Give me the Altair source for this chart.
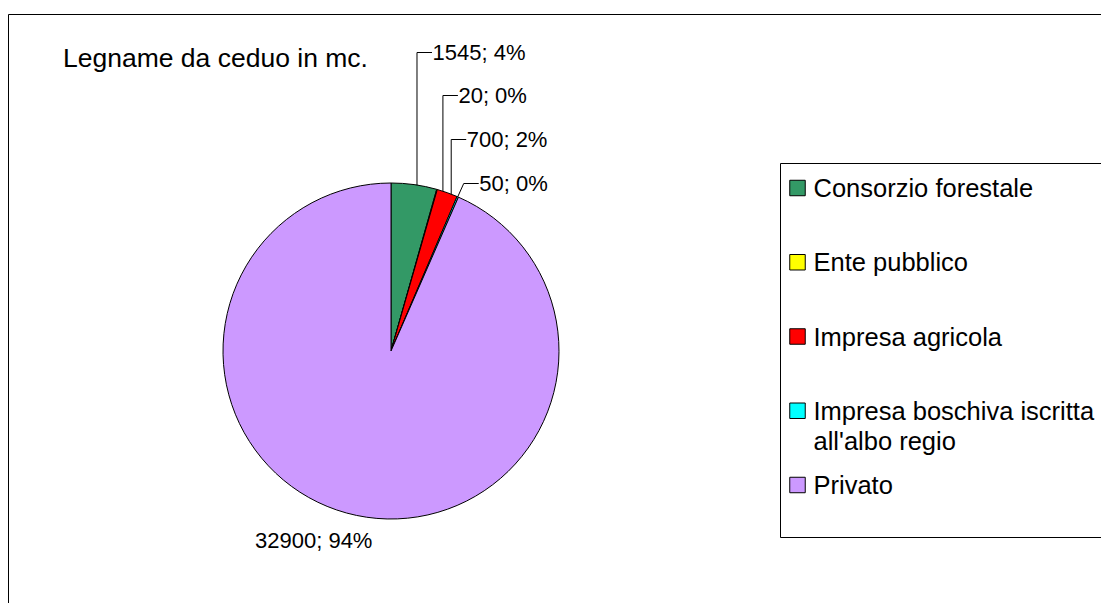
import math
import altair as alt
import pandas as pd

# ---------------- data ----------------
categories = ["Consorzio forestale", "Ente pubblico", "Impresa agricola",
              "Impresa boschiva iscritta all'albo regio", "Privato"]
legend_text = ["Consorzio forestale", "Ente pubblico", "Impresa agricola",
               "Impresa boschiva iscritta\nall'albo regio", "Privato"]
values = [1545, 20, 700, 50, 32900]
percent_shown = [4, 0, 2, 0, 94]
colors = ["#339966", "#FFFF00", "#FF0000", "#00FFFF", "#CC99FF"]
title_text = "Legname da ceduo in mc."

# ---------------- layout (pixels in view space) ----------------
W, H = 1093, 595
CX, CY, R = 383, 343, 168
FONT = "Liberation Sans, Arial, Helvetica, sans-serif"
leader_angle = [8.9, 18.0, 21.0, 23.4]      # degrees, clockwise from 12 o'clock
leader_dx = [0, 0, 0, 6]
label_y = [44.5, 87.5, 131.5, 175.5]
TAIL = 15
privato_xy = (247, 540)
legend_range = [180, 477]

df = pd.DataFrame({"category": categories, "value": values,
                   "idx": list(range(len(values)))})

line_rows, text_rows = [], []
for i in range(4):
    a = math.radians(leader_angle[i])
    sx, sy = CX + R * math.sin(a), CY - R * math.cos(a)
    ex = sx + leader_dx[i]
    ey = label_y[i]
    line_rows += [
        {"grp": i, "seq": 0, "px": sx, "py": sy},
        {"grp": i, "seq": 1, "px": ex, "py": ey},
        {"grp": i, "seq": 2, "px": ex + TAIL, "py": ey},
    ]
    text_rows.append({"px": ex + TAIL + 0.5, "py": ey + 7.5,
                      "label": f"{values[i]}; {percent_shown[i]}%"})
text_rows.append({"px": privato_xy[0], "py": privato_xy[1],
                  "label": f"{values[4]}; {percent_shown[4]}%"})
lines_df = pd.DataFrame(line_rows)
texts_df = pd.DataFrame(text_rows)

leg_df = pd.DataFrame({"category": categories, "display": legend_text})
one = pd.DataFrame({"t": [title_text]})

color_scale = alt.Scale(domain=categories, range=colors)

border = alt.Chart(one).mark_rect(filled=False, stroke="black", strokeWidth=1).encode(
    x=alt.value(0.5), x2=alt.value(1400), y=alt.value(6.5), y2=alt.value(900))

pie = alt.Chart(df).mark_arc(outerRadius=R, stroke="black", strokeWidth=1).encode(
    theta=alt.Theta("value:Q", stack=True),
    color=alt.Color("category:N", scale=color_scale, legend=None),
    order=alt.Order("idx:Q", sort="ascending"),
    x=alt.value(CX), y=alt.value(CY))

leaders = alt.Chart(lines_df).mark_line(color="black", strokeWidth=1).encode(
    x=alt.X("px:Q", scale=None, axis=None),
    y=alt.Y("py:Q", scale=None, axis=None),
    detail="grp:N", order="seq:Q")

labels = alt.Chart(texts_df).mark_text(
    align="left", baseline="alphabetic", fontSize=22, font=FONT, color="black").encode(
    x=alt.X("px:Q", scale=None, axis=None),
    y=alt.Y("py:Q", scale=None, axis=None),
    text="label:N")

title = alt.Chart(one).mark_text(
    align="left", baseline="alphabetic", fontSize=26.5, font=FONT, color="black").encode(
    x=alt.value(55), y=alt.value(59), text="t:N")

leg_box = alt.Chart(one).mark_rect(filled=False, stroke="black", strokeWidth=1).encode(
    x=alt.value(772.5), x2=alt.value(1400), y=alt.value(155.5), y2=alt.value(529.5))

leg_y = alt.Y("category:N", axis=None,
              scale=alt.Scale(type="point", domain=categories, range=legend_range, padding=0))

leg_sq = alt.Chart(leg_df).mark_square(size=240, stroke="black", strokeWidth=1,
                                        opacity=1, filled=True).encode(
    x=alt.value(789.5), y=leg_y,
    color=alt.Color("category:N", scale=color_scale, legend=None))

leg_txt = alt.Chart(leg_df).mark_text(
    align="left", baseline="alphabetic", fontSize=25.5, font=FONT, color="black",
    lineBreak="\n", lineHeight=30, dy=9).encode(
    x=alt.value(805.5), y=leg_y, text="display:N")

chart = alt.layer(border, pie, leaders, labels, title, leg_box, leg_sq, leg_txt).resolve_scale(
    x="independent", y="independent"
).properties(
    width=W, height=H, padding=0,
    autosize=alt.AutoSizeParams(type="none"),
    background="white",
).configure_view(stroke=None)

chart.save("out.html", embed_options={"renderer": "svg", "actions": False})
